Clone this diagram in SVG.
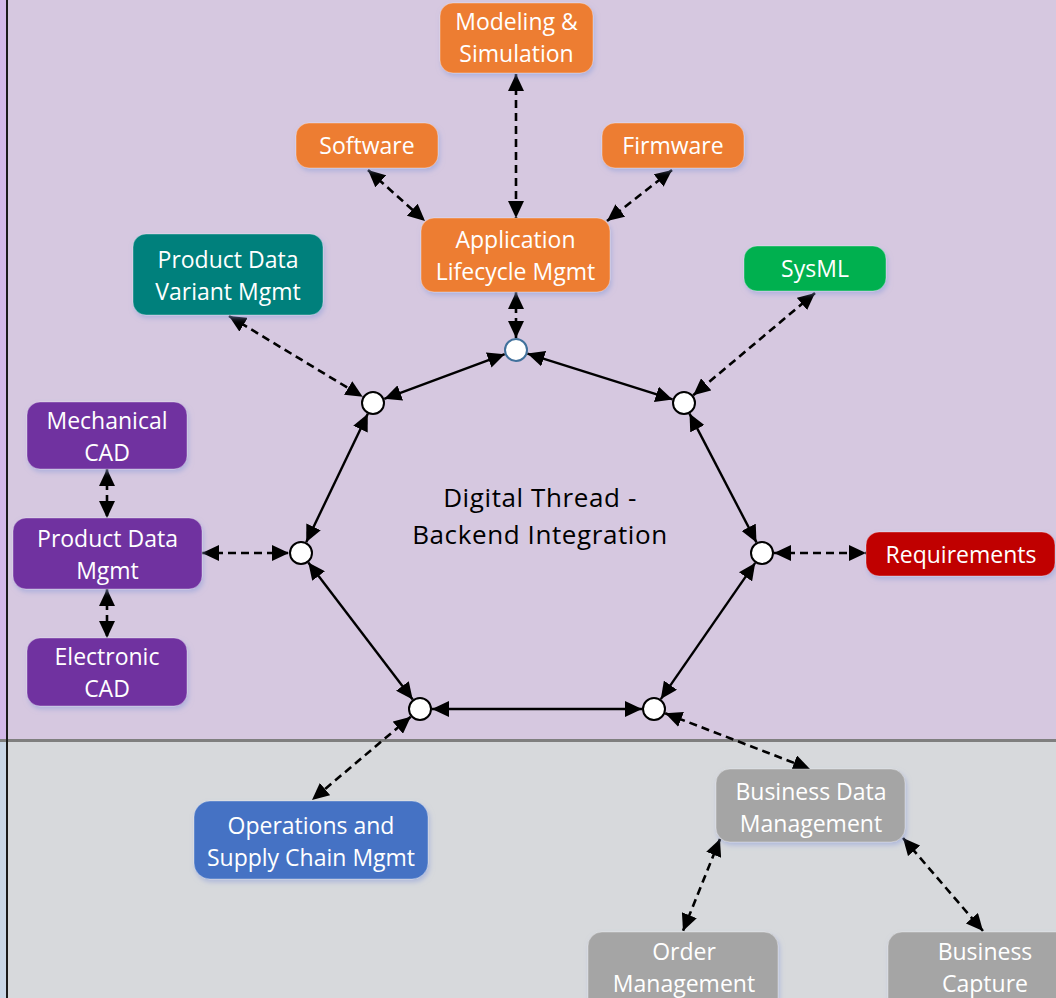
<svg xmlns="http://www.w3.org/2000/svg" width="1056" height="998" viewBox="0 0 1056 998">
  <style>
    .node rect { stroke: #ffffff; stroke-opacity: 0.35; stroke-width: 1; filter: url(#glow); }
    .node text { font-family: "Open Sans", "Noto Sans", sans-serif; font-size: 23px; fill: #ffffff; text-anchor: middle; }
    .orange rect { fill: #ED7D31; }
    .teal rect { fill: #00807C; }
    .green rect { fill: #00B050; }
    .red rect { fill: #C00000; }
    .purple rect { fill: #7030A0; }
    .blue rect { fill: #4472C4; }
    .gray rect { fill: #A5A5A5; }
    .solid { stroke: #000000; stroke-width: 2.4; fill: none; marker-start: url(#head); marker-end: url(#head); }
    .dash { stroke: #000000; stroke-width: 2.6; fill: none; stroke-dasharray: 8 5; marker-start: url(#head); marker-end: url(#head); }
    .hub { fill: #ffffff; stroke: #000000; stroke-width: 2; }
    .title { font-family: "Open Sans", "Noto Sans", sans-serif; font-size: 26px; letter-spacing: 0.6px; fill: #000000; text-anchor: middle; }
  </style>
  <defs>
    <marker id="head" markerUnits="userSpaceOnUse" markerWidth="18" markerHeight="16" refX="17" refY="8" orient="auto-start-reverse">
      <path d="M0,0 L17,8 L0,16 z" fill="#000000"/>
    </marker>
    <filter id="glow" x="-10%" y="-20%" width="120%" height="150%">
      <feDropShadow dx="1.5" dy="3" stdDeviation="2.5" flood-color="#8C9CD8" flood-opacity="0.55"/>
    </filter>
  </defs>

  <!-- background bands -->
  <rect x="0" y="0" width="1056" height="740" fill="#D6C8E0"/>
  <rect x="0" y="740" width="1056" height="258" fill="#D7D9DC"/>
  <rect x="0" y="0" width="6" height="740" fill="#D2B8E8"/>
  <rect x="0" y="740" width="6" height="258" fill="#C9D6E6"/>
  <line x1="0" y1="740.5" x2="1056" y2="740.5" stroke="#7F7F7F" stroke-width="3"/>
  <line x1="7" y1="0" x2="7" y2="998" stroke="#1A1A1A" stroke-width="2"/>

  <!-- connectors -->
  <g id="connectors">
    <!-- ring -->
    <line class="solid" x1="504.7" y1="354.2" x2="384.3" y2="398.8"/>
    <line class="solid" x1="527.4" y1="353.6" x2="672.6" y2="399.4"/>
    <line class="solid" x1="367.8" y1="413.8" x2="306.2" y2="542.2"/>
    <line class="solid" x1="689.5" y1="413.6" x2="756.5" y2="542.4"/>
    <line class="solid" x1="308.3" y1="562.5" x2="412.7" y2="699.5"/>
    <line class="solid" x1="755.2" y1="562.9" x2="660.8" y2="699.1"/>
    <line class="solid" x1="432" y1="709" x2="642" y2="709"/>
    <!-- spokes -->
    <line class="dash" x1="516" y1="292" x2="516" y2="338"/>
    <line class="dash" x1="516" y1="74" x2="516" y2="218"/>
    <line class="dash" x1="368" y1="170" x2="425" y2="221"/>
    <line class="dash" x1="672" y1="170" x2="607" y2="221"/>
    <line class="dash" x1="229" y1="316" x2="362.7" y2="396.8"/>
    <line class="dash" x1="815" y1="293" x2="693.2" y2="395.3"/>
    <line class="dash" x1="202" y1="553" x2="289" y2="553"/>
    <line class="dash" x1="774" y1="553" x2="866" y2="553"/>
    <line class="dash" x1="107" y1="469" x2="107" y2="518"/>
    <line class="dash" x1="107" y1="589" x2="107" y2="638"/>
    <line class="dash" x1="410.8" y1="716.7" x2="312" y2="800"/>
    <line class="dash" x1="665.2" y1="713.3" x2="810" y2="769"/>
    <line class="dash" x1="720" y1="839" x2="683" y2="931"/>
    <line class="dash" x1="903" y1="838" x2="983" y2="931"/>
  </g>

  <!-- integration hubs -->
  <g id="hubs">
    <circle cx="516" cy="350" r="11" fill="#ffffff" stroke="#41719C" stroke-width="2"/>
    <circle class="hub" cx="373" cy="403" r="11"/>
    <circle class="hub" cx="684" cy="403" r="11"/>
    <circle class="hub" cx="301" cy="553" r="11"/>
    <circle class="hub" cx="762" cy="553" r="11"/>
    <circle class="hub" cx="420" cy="709" r="11"/>
    <circle class="hub" cx="654" cy="709" r="11"/>
  </g>

  <g id="center-label">
    <text class="title" x="540" y="507">Digital Thread -</text>
    <text class="title" x="540" y="544">Backend Integration</text>
  </g>

  <g id="modeling-simulation" class="node orange">
    <rect x="440" y="3" width="153" height="70" rx="13"/>
    <text x="516.5" y="30">Modeling &amp;</text>
    <text x="516.5" y="62">Simulation</text>
  </g>
  <g id="software" class="node orange">
    <rect x="296" y="123" width="142" height="45" rx="13"/>
    <text x="367" y="154">Software</text>
  </g>
  <g id="firmware" class="node orange">
    <rect x="602" y="123" width="142" height="45" rx="13"/>
    <text x="673" y="154">Firmware</text>
  </g>
  <g id="application-lifecycle" class="node orange">
    <rect x="421" y="218" width="189" height="74" rx="13"/>
    <text x="515.5" y="248">Application</text>
    <text x="515.5" y="280">Lifecycle Mgmt</text>
  </g>
  <g id="product-data-variant" class="node teal">
    <rect x="133" y="234" width="190" height="81" rx="13"/>
    <text x="228" y="268">Product Data</text>
    <text x="228" y="300">Variant Mgmt</text>
  </g>
  <g id="sysml" class="node green">
    <rect x="744" y="246" width="142" height="45" rx="13"/>
    <text x="815" y="277">SysML</text>
  </g>
  <g id="requirements" class="node red">
    <rect x="866" y="532" width="189" height="44" rx="13"/>
    <text x="961" y="563">Requirements</text>
  </g>
  <g id="mechanical-cad" class="node purple">
    <rect x="27" y="402" width="160" height="67" rx="13"/>
    <text x="107" y="429">Mechanical</text>
    <text x="107" y="461">CAD</text>
  </g>
  <g id="product-data-mgmt" class="node purple">
    <rect x="13" y="518" width="189" height="71" rx="13"/>
    <text x="107.5" y="547">Product Data</text>
    <text x="107.5" y="579">Mgmt</text>
  </g>
  <g id="electronic-cad" class="node purple">
    <rect x="27" y="638" width="160" height="68" rx="13"/>
    <text x="107" y="665">Electronic</text>
    <text x="107" y="697">CAD</text>
  </g>
  <g id="operations-supply-chain" class="node blue">
    <rect x="194" y="801" width="234" height="78" rx="16"/>
    <text x="311" y="834">Operations and</text>
    <text x="311" y="866">Supply Chain Mgmt</text>
  </g>
  <g id="business-data-mgmt" class="node gray">
    <rect x="716" y="769" width="189" height="73" rx="14"/>
    <text x="811" y="800">Business Data</text>
    <text x="811" y="832">Management</text>
  </g>
  <g id="order-management" class="node gray">
    <rect x="588" y="932" width="190" height="90" rx="14"/>
    <text x="684" y="960">Order</text>
    <text x="684" y="992">Management</text>
  </g>
  <g id="business-capture" class="node gray">
    <rect x="888" y="932" width="190" height="90" rx="14"/>
    <text x="985" y="960">Business</text>
    <text x="985" y="992">Capture</text>
  </g>
</svg>
